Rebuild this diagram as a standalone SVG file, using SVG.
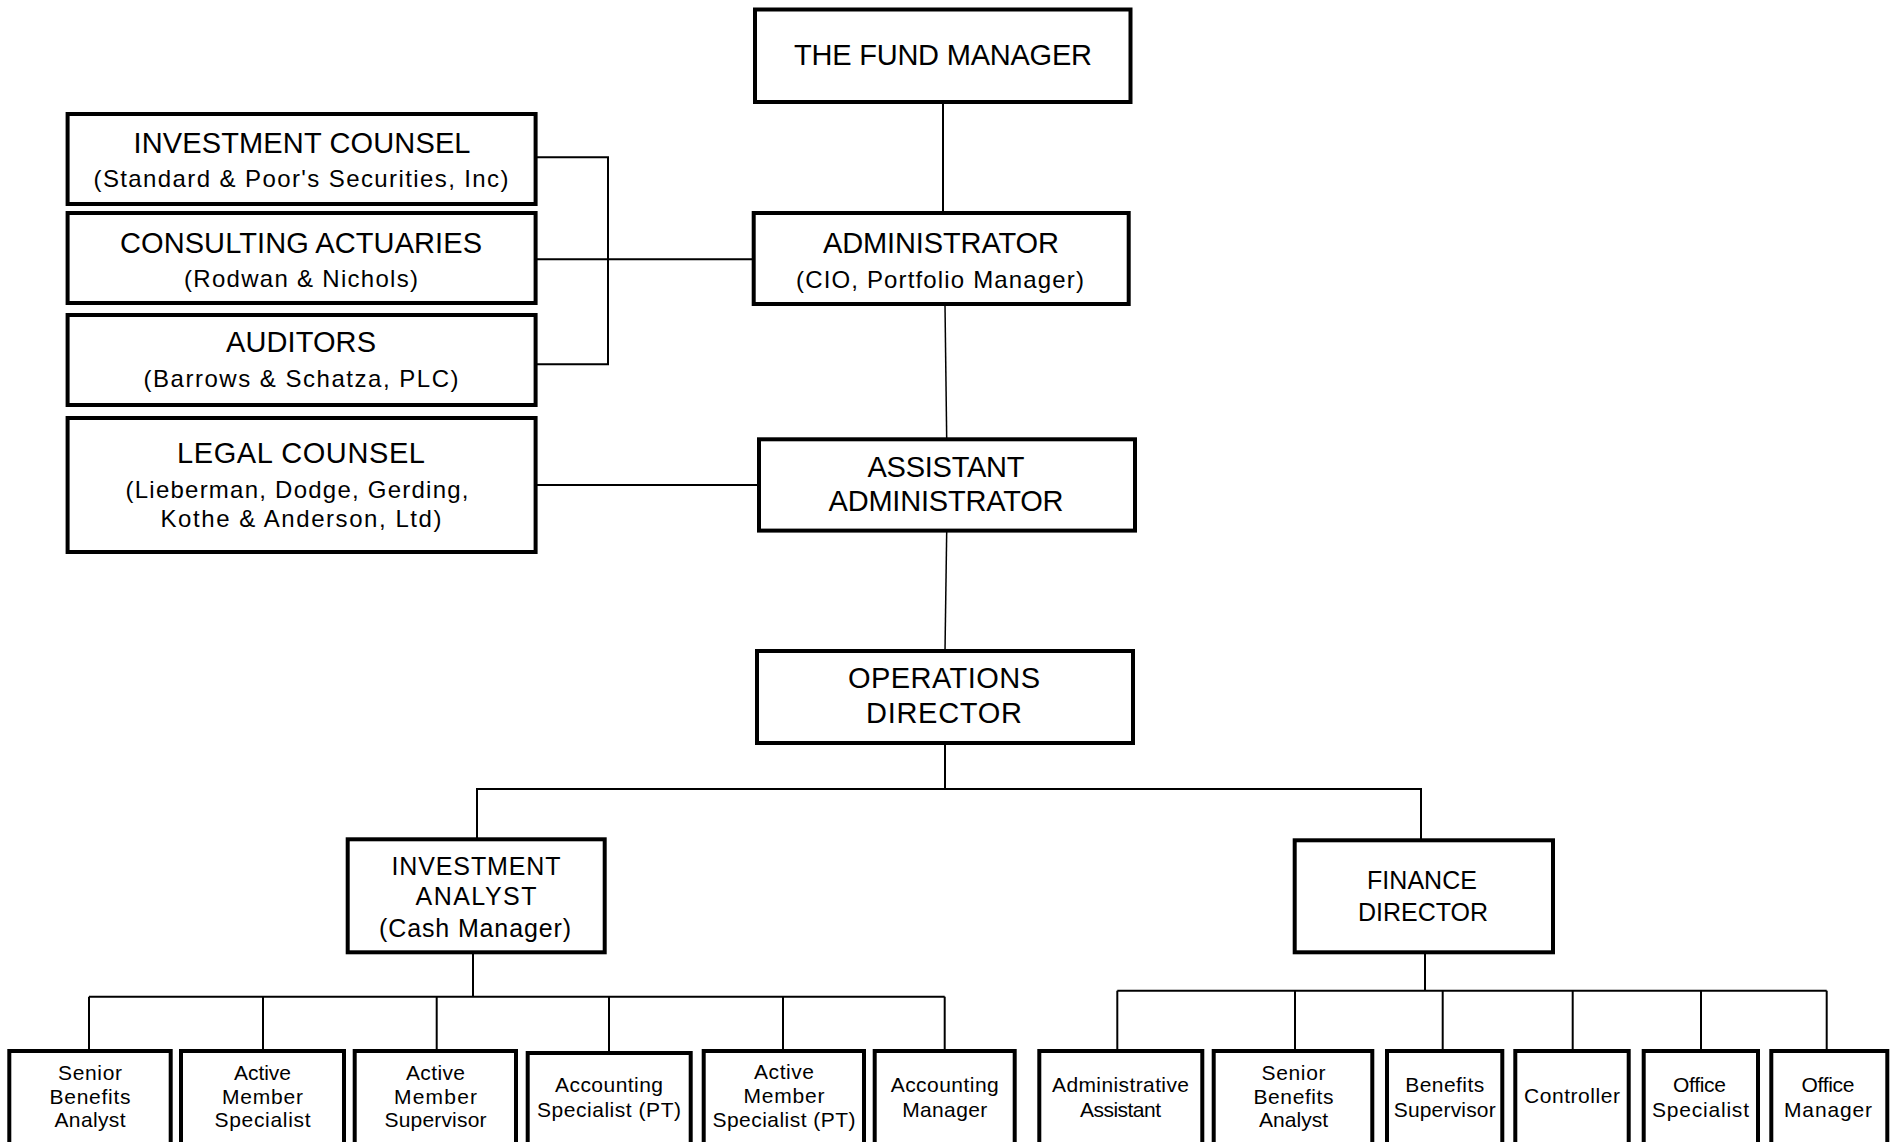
<svg xmlns="http://www.w3.org/2000/svg" width="1894" height="1142" viewBox="0 0 1894 1142">
<style>
.box{fill:#fff;stroke:#000;stroke-width:4}
.c{stroke:#000;stroke-width:2;fill:none}
.cs{stroke:#000;stroke-width:1.5;fill:none}
text{font-family:"Liberation Sans",Arial,Helvetica,sans-serif;fill:#000;text-anchor:middle}
.hd{font-size:29px}
.sub{font-size:24px}
.md{font-size:25px}
.sm{font-size:21px}
</style>
<rect width="1894" height="1142" fill="#fff"/>
<g id="connectors">
<line class="c" x1="943" y1="103" x2="943" y2="213"/>
<line class="cs" x1="945" y1="305" x2="946.7" y2="439"/>
<line class="cs" x1="946.7" y1="531" x2="945" y2="651"/>
<line class="c" x1="945" y1="744" x2="945" y2="789"/>
<polyline class="c" points="477,839 477,789 1421,789 1421,840"/>
<polyline class="c" points="536,157.3 608,157.3 608,364.3 536,364.3"/>
<line class="c" x1="536" y1="259.3" x2="753" y2="259.3"/>
<line class="c" x1="536" y1="485" x2="759" y2="485"/>
<line class="c" x1="473" y1="953" x2="473" y2="996.7"/>
<line class="c" x1="89" y1="996.7" x2="944.7" y2="996.7"/>
<line class="c" x1="89" y1="996.7" x2="89" y2="1051"/>
<line class="c" x1="263" y1="996.7" x2="263" y2="1051"/>
<line class="c" x1="436.7" y1="996.7" x2="436.7" y2="1051"/>
<line class="c" x1="609" y1="996.7" x2="609" y2="1053"/>
<line class="c" x1="783" y1="996.7" x2="783" y2="1051"/>
<line class="c" x1="944.7" y1="996.7" x2="944.7" y2="1051"/>
<line class="c" x1="1425" y1="953" x2="1425" y2="990.7"/>
<line class="c" x1="1117.3" y1="990.7" x2="1826.7" y2="990.7"/>
<line class="c" x1="1117.3" y1="990.7" x2="1117.3" y2="1051"/>
<line class="c" x1="1295" y1="990.7" x2="1295" y2="1051"/>
<line class="c" x1="1442.7" y1="990.7" x2="1442.7" y2="1051"/>
<line class="c" x1="1572.7" y1="990.7" x2="1572.7" y2="1051"/>
<line class="c" x1="1701" y1="990.7" x2="1701" y2="1051"/>
<line class="c" x1="1826.7" y1="990.7" x2="1826.7" y2="1051"/>
</g>
<g id="fund-manager">
<rect class="box" x="755" y="9.5" width="375.5" height="92.5"/>
<text class="hd" x="943" y="65" textLength="298">THE FUND MANAGER</text>
</g>
<g id="administrator">
<rect class="box" x="753.7" y="213" width="375" height="91"/>
<text class="hd" x="941" y="253.3" textLength="236">ADMINISTRATOR</text>
<text class="sub" x="940" y="288.3" textLength="288">(CIO, Portfolio Manager)</text>
</g>
<g id="investment-counsel">
<rect class="box" x="67.6" y="114" width="468" height="90"/>
<text class="hd" x="302" y="153.3" textLength="337">INVESTMENT COUNSEL</text>
<text class="sub" x="301" y="187.3" textLength="415">(Standard &amp; Poor's Securities, Inc)</text>
</g>
<g id="consulting-actuaries">
<rect class="box" x="67.6" y="213" width="468" height="90"/>
<text class="hd" x="301" y="252.7" textLength="362">CONSULTING ACTUARIES</text>
<text class="sub" x="301" y="287.3" textLength="234">(Rodwan &amp; Nichols)</text>
</g>
<g id="auditors">
<rect class="box" x="67.6" y="315" width="468" height="90"/>
<text class="hd" x="301" y="352.3" textLength="150">AUDITORS</text>
<text class="sub" x="301" y="387.3" textLength="315">(Barrows &amp; Schatza, PLC)</text>
</g>
<g id="legal-counsel">
<rect class="box" x="67.6" y="418" width="468" height="134"/>
<text class="hd" x="301" y="462.7" textLength="248">LEGAL COUNSEL</text>
<text class="sub" x="297" y="498.3" textLength="343">(Lieberman, Dodge, Gerding,</text>
<text class="sub" x="301" y="527.3" textLength="281">Kothe &amp; Anderson, Ltd)</text>
</g>
<g id="assistant-administrator">
<rect class="box" x="759" y="439.3" width="376" height="91.3"/>
<text class="hd" x="946" y="477" textLength="157">ASSISTANT</text>
<text class="hd" x="946" y="511" textLength="235">ADMINISTRATOR</text>
</g>
<g id="operations-director">
<rect class="box" x="757" y="651" width="376" height="92"/>
<text class="hd" x="944" y="688.3" textLength="192">OPERATIONS</text>
<text class="hd" x="944" y="722.7" textLength="156">DIRECTOR</text>
</g>
<g id="investment-analyst">
<rect class="box" x="347.7" y="839.3" width="257" height="113"/>
<text class="md" x="476" y="875" textLength="169">INVESTMENT</text>
<text class="md" x="476" y="905" textLength="121">ANALYST</text>
<text class="md" x="475" y="936.7" textLength="192">(Cash Manager)</text>
</g>
<g id="finance-director">
<rect class="box" x="1294.7" y="840.3" width="258.3" height="112"/>
<text class="md" x="1422" y="889" textLength="110">FINANCE</text>
<text class="md" x="1423" y="920.7" textLength="130">DIRECTOR</text>
</g>
<g id="senior-benefits-analyst-1">
<rect class="box" x="9.3" y="1051" width="161.4" height="120"/>
<text class="sm" x="90" y="1080" textLength="64">Senior</text>
<text class="sm" x="90" y="1103.5" textLength="81">Benefits</text>
<text class="sm" x="90" y="1127" textLength="71">Analyst</text>
</g>
<g id="active-member-specialist">
<rect class="box" x="181" y="1051" width="163" height="120"/>
<text class="sm" x="262.5" y="1080" textLength="57">Active</text>
<text class="sm" x="262.5" y="1103.5" textLength="81">Member</text>
<text class="sm" x="262.5" y="1127" textLength="96">Specialist</text>
</g>
<g id="active-member-supervisor">
<rect class="box" x="354.7" y="1051" width="161.3" height="120"/>
<text class="sm" x="435.5" y="1080" textLength="59">Active</text>
<text class="sm" x="435.5" y="1103.5" textLength="83">Member</text>
<text class="sm" x="435.5" y="1127" textLength="102">Supervisor</text>
</g>
<g id="accounting-specialist-pt">
<rect class="box" x="527.7" y="1053" width="163" height="120"/>
<text class="sm" x="609" y="1092" textLength="108">Accounting</text>
<text class="sm" x="609" y="1116.7" textLength="144">Specialist (PT)</text>
</g>
<g id="active-member-specialist-pt">
<rect class="box" x="703.7" y="1051" width="160.3" height="120"/>
<text class="sm" x="784" y="1078.5" textLength="60">Active</text>
<text class="sm" x="784" y="1103.3" textLength="81">Member</text>
<text class="sm" x="784" y="1126.7" textLength="143">Specialist (PT)</text>
</g>
<g id="accounting-manager">
<rect class="box" x="874.7" y="1051" width="140" height="120"/>
<text class="sm" x="944.7" y="1092" textLength="108">Accounting</text>
<text class="sm" x="944.7" y="1116.7" textLength="85">Manager</text>
</g>
<g id="administrative-assistant">
<rect class="box" x="1039.3" y="1051" width="163" height="120"/>
<text class="sm" x="1120.5" y="1092" textLength="137">Administrative</text>
<text class="sm" x="1120.5" y="1116.7" textLength="81">Assistant</text>
</g>
<g id="senior-benefits-analyst-2">
<rect class="box" x="1213.7" y="1051" width="158.6" height="120"/>
<text class="sm" x="1293.5" y="1080" textLength="64">Senior</text>
<text class="sm" x="1293.5" y="1103.5" textLength="80">Benefits</text>
<text class="sm" x="1293.5" y="1127" textLength="69">Analyst</text>
</g>
<g id="benefits-supervisor">
<rect class="box" x="1387" y="1051" width="115.3" height="120"/>
<text class="sm" x="1444.7" y="1092" textLength="79">Benefits</text>
<text class="sm" x="1444.7" y="1116.7" textLength="102">Supervisor</text>
</g>
<g id="controller">
<rect class="box" x="1515.3" y="1051" width="113.4" height="120"/>
<text class="sm" x="1572" y="1103.3" textLength="96">Controller</text>
</g>
<g id="office-specialist">
<rect class="box" x="1643.7" y="1051" width="114.3" height="120"/>
<text class="sm" x="1699.5" y="1092" textLength="53">Office</text>
<text class="sm" x="1700.5" y="1116.7" textLength="97">Specialist</text>
</g>
<g id="office-manager">
<rect class="box" x="1771.3" y="1051" width="116" height="120"/>
<text class="sm" x="1828" y="1092" textLength="53">Office</text>
<text class="sm" x="1828" y="1116.7" textLength="88">Manager</text>
</g>
</svg>
